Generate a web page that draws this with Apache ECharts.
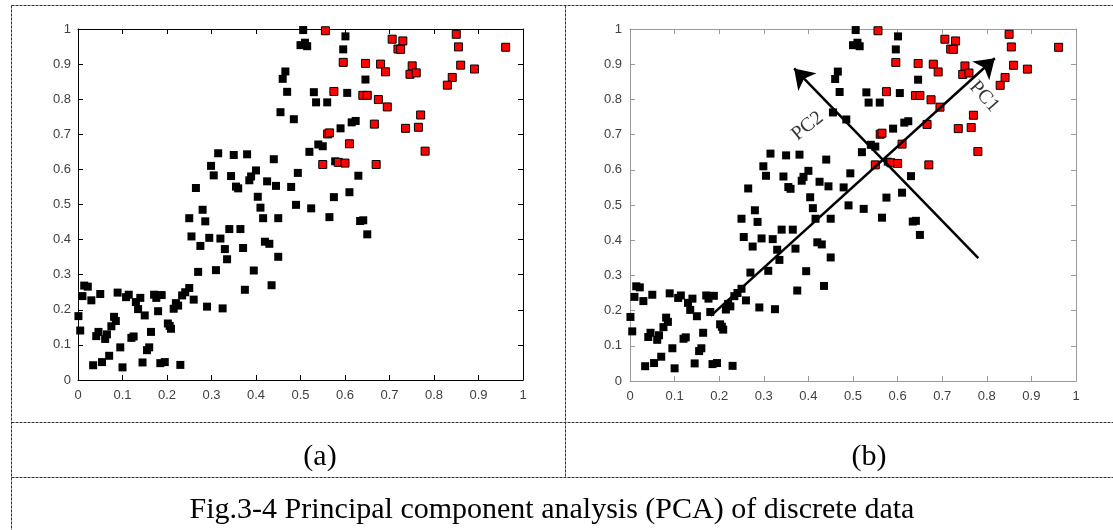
<!DOCTYPE html>
<html>
<head>
<meta charset="utf-8">
<script src="https://cdn.jsdelivr.net/npm/echarts@6/dist/echarts.min.js"></script>
<style>
html,body{margin:0;padding:0;background:#fff;}
#chart{width:1113px;height:530px;}
</style>
</head>
<body>
<div id="chart"></div>
<script>
// ---- data ----
const tickLabels = ['0','0.1','0.2','0.3','0.4','0.5','0.6','0.7','0.8','0.9','1'];

const blackPoints = [
  [0.506,0.997],[0.500,0.954],[0.510,0.961],[0.515,0.951],
  [0.601,0.979],[0.596,0.942],
  [0.466,0.879],[0.460,0.858],[0.470,0.821],
  [0.530,0.820],[0.535,0.791],[0.560,0.791],[0.605,0.818],[0.646,0.856],
  [0.455,0.763],[0.485,0.743],
  [0.615,0.734],[0.624,0.738],[0.590,0.717],
  [0.540,0.671],[0.550,0.666],[0.520,0.650],
  [0.578,0.623],
  [0.494,0.590],[0.479,0.550],[0.630,0.582],
  [0.524,0.489],[0.565,0.464],[0.575,0.521],[0.610,0.535],[0.634,0.453],[0.641,0.455],[0.650,0.415],[0.490,0.499],
  [0.265,0.547],[0.299,0.610],[0.305,0.583],[0.315,0.646],[0.350,0.641],[0.380,0.643],[0.344,0.581],[0.355,0.551],
  [0.360,0.546],[0.400,0.597],[0.389,0.580],[0.385,0.569],[0.404,0.522],[0.440,0.629],[0.425,0.566],[0.445,0.553],
  [0.410,0.491],[0.250,0.461],[0.280,0.485],[0.286,0.452],[0.255,0.409],[0.275,0.382],[0.295,0.405],[0.320,0.403],
  [0.340,0.430],[0.365,0.430],[0.416,0.461],[0.450,0.461],[0.330,0.373],[0.335,0.344],[0.371,0.376],[0.420,0.394],
  [0.430,0.388],[0.450,0.351],[0.270,0.308],[0.310,0.313],[0.395,0.312],[0.375,0.257],[0.435,0.270],[0.260,0.229],
  [0.290,0.209],[0.325,0.204],
  [0.250,0.262],[0.241,0.250],[0.234,0.241],[0.220,0.219],[0.215,0.203],[0.225,0.212],[0.188,0.242],[0.171,0.243],
  [0.176,0.234],[0.180,0.196],[0.164,0.137],[0.202,0.161],[0.206,0.154],[0.209,0.146],[0.160,0.093],[0.155,0.085],
  [0.145,0.050],[0.185,0.048],[0.195,0.051],[0.230,0.043],[0.150,0.184],[0.135,0.202],[0.140,0.234],[0.130,0.222],
  [0.114,0.243],[0.108,0.236],[0.089,0.249],[0.081,0.180],[0.085,0.168],[0.075,0.153],[0.065,0.130],[0.061,0.117],
  [0.125,0.124],[0.120,0.120],[0.095,0.093],[0.070,0.069],[0.054,0.051],[0.034,0.042],[0.100,0.036],[0.046,0.137],
  [0.041,0.125],[0.050,0.245],[0.030,0.227],[0.014,0.269],[0.022,0.266],[0.010,0.239],[0.001,0.182],[0.005,0.141]
];

const redPoints = [
  [0.556,0.995],[0.706,0.971],[0.730,0.966],[0.719,0.943],[0.725,0.942],[0.850,0.985],[0.855,0.949],[0.961,0.948],
  [0.596,0.905],[0.646,0.902],[0.680,0.900],[0.691,0.878],[0.751,0.895],[0.746,0.871],[0.760,0.875],[0.860,0.897],
  [0.891,0.886],[0.841,0.862],[0.830,0.840],[0.575,0.822],[0.640,0.811],[0.650,0.811],[0.675,0.799],[0.695,0.778],
  [0.770,0.755],[0.736,0.717],[0.765,0.720],[0.666,0.729],[0.561,0.701],[0.565,0.704],[0.610,0.673],[0.780,0.652],
  [0.550,0.614],[0.585,0.620],[0.600,0.618],[0.670,0.614]
];

// principal component arrows: [start, end]
const pc1Arrow = [[0.181,0.185],[0.818,0.917]];
const pc2Arrow = [[0.781,0.349],[0.368,0.888]];
const arrowLabels = ['PC1','PC2'];
const arrowLabelPos = [[0.794,0.808],[0.398,0.724]];

const panelLabels = ['(a)','(b)'];
const caption = 'Fig.3-4 Principal component analysis (PCA) of discrete data';

// ---- chart ----
const chart = echarts.init(document.getElementById('chart'), null, {renderer:'canvas'});

function axisPair(gridIndex, color, isX, labelMargin) {
  const base = {
    gridIndex: gridIndex, type: 'value', min: 0, max: 1, interval: 0.1,
    splitLine: {show: false},
    axisLine: {show: true, onZero: false, lineStyle: {color: color, width: 1}},
    axisTick: {show: true, inside: true, length: 5, lineStyle: {color: color, width: 1}}
  };
  const main = Object.assign({}, base, {
    position: isX ? 'bottom' : 'left',
    axisLabel: {
      show: true, color: '#404040', fontSize: 13, fontFamily: 'Liberation Sans, Arial',
      margin: labelMargin,
      formatter: v => tickLabels[Math.round(v * 10)]
    }
  });
  const opp = Object.assign({}, base, {
    position: isX ? 'top' : 'right',
    axisLabel: {show: false}
  });
  return [main, opp];
}

const xAxes = [].concat(axisPair(0, '#000', true, 9), axisPair(1, '#9a9a9a', true, 9));
const yAxes = [].concat(axisPair(0, '#000', false, 7), axisPair(1, '#9a9a9a', false, 8));

function pts(gi, data, isRed) {
  return {
    type: 'scatter', xAxisIndex: gi * 2, yAxisIndex: gi * 2,
    data: data, symbol: 'rect', symbolSize: 8, silent: true,
    itemStyle: isRed
      ? {color: '#ff0000', borderColor: '#000', borderWidth: 1, opacity: 1}
      : {color: '#000', opacity: 1}
  };
}

const labelFont = {fontFamily: 'Liberation Serif, Times New Roman', fontSize: 20, color: '#000', textBorderWidth: 0};

const dashStyle = {stroke: '#333', lineWidth: 1, lineDash: [3, 1]};
function hline(y, x1, x2) { return {type:'line', silent:true, shape:{x1:x1, y1:y, x2:x2, y2:y}, style: dashStyle}; }
function vline(x, y1, y2) { return {type:'line', silent:true, shape:{x1:x, y1:y1, x2:x, y2:y2}, style: dashStyle}; }

const option = {
  animation: false,
  backgroundColor: '#fff',
  grid: [
    {left: 78, top: 29, width: 445, height: 351},
    {left: 630, top: 29, width: 446, height: 352}
  ],
  xAxis: xAxes,
  yAxis: yAxes,
  series: [
    pts(0, blackPoints, false),
    pts(0, redPoints, true),
    pts(1, blackPoints, false),
    pts(1, redPoints, true),
    {
      type: 'lines', coordinateSystem: 'cartesian2d', xAxisIndex: 2, yAxisIndex: 2,
      silent: true, z: 5,
      symbol: ['none', 'arrow'], symbolSize: 19,
      lineStyle: {color: '#000', width: 2.5, opacity: 1, curveness: 0},
      data: [{coords: pc1Arrow}, {coords: pc2Arrow}]
    },
    {
      type: 'scatter', xAxisIndex: 2, yAxisIndex: 2, silent: true, z: 6,
      symbolSize: 1, itemStyle: {color: 'rgba(0,0,0,0)'},
      data: [
        {value: arrowLabelPos[0], label: Object.assign({show: true, position: 'inside', formatter: arrowLabels[0], rotate: -48}, labelFont)},
        {value: arrowLabelPos[1], label: Object.assign({show: true, position: 'inside', formatter: arrowLabels[1], rotate: 39}, labelFont)}
      ]
    }
  ],
  graphic: [
    hline(5.5, 11.5, 1113),
    hline(422.5, 11.5, 1113),
    hline(477.5, 11.5, 1113),
    vline(11.5, 5.5, 530),
    vline(565.5, 5.5, 477.5),
    {type:'text', silent:true, x: 320, y: 457, style:{text: panelLabels[0], font: '30px "Liberation Serif"', fill:'#000', align:'center', verticalAlign:'middle'}},
    {type:'text', silent:true, x: 869, y: 457, style:{text: panelLabels[1], font: '30px "Liberation Serif"', fill:'#000', align:'center', verticalAlign:'middle'}},
    {type:'text', silent:true, x: 552, y: 510, style:{text: caption, font: '30px "Liberation Serif"', fill:'#000', align:'center', verticalAlign:'middle'}}
  ]
};
chart.setOption(option);
</script>
</body>
</html>
